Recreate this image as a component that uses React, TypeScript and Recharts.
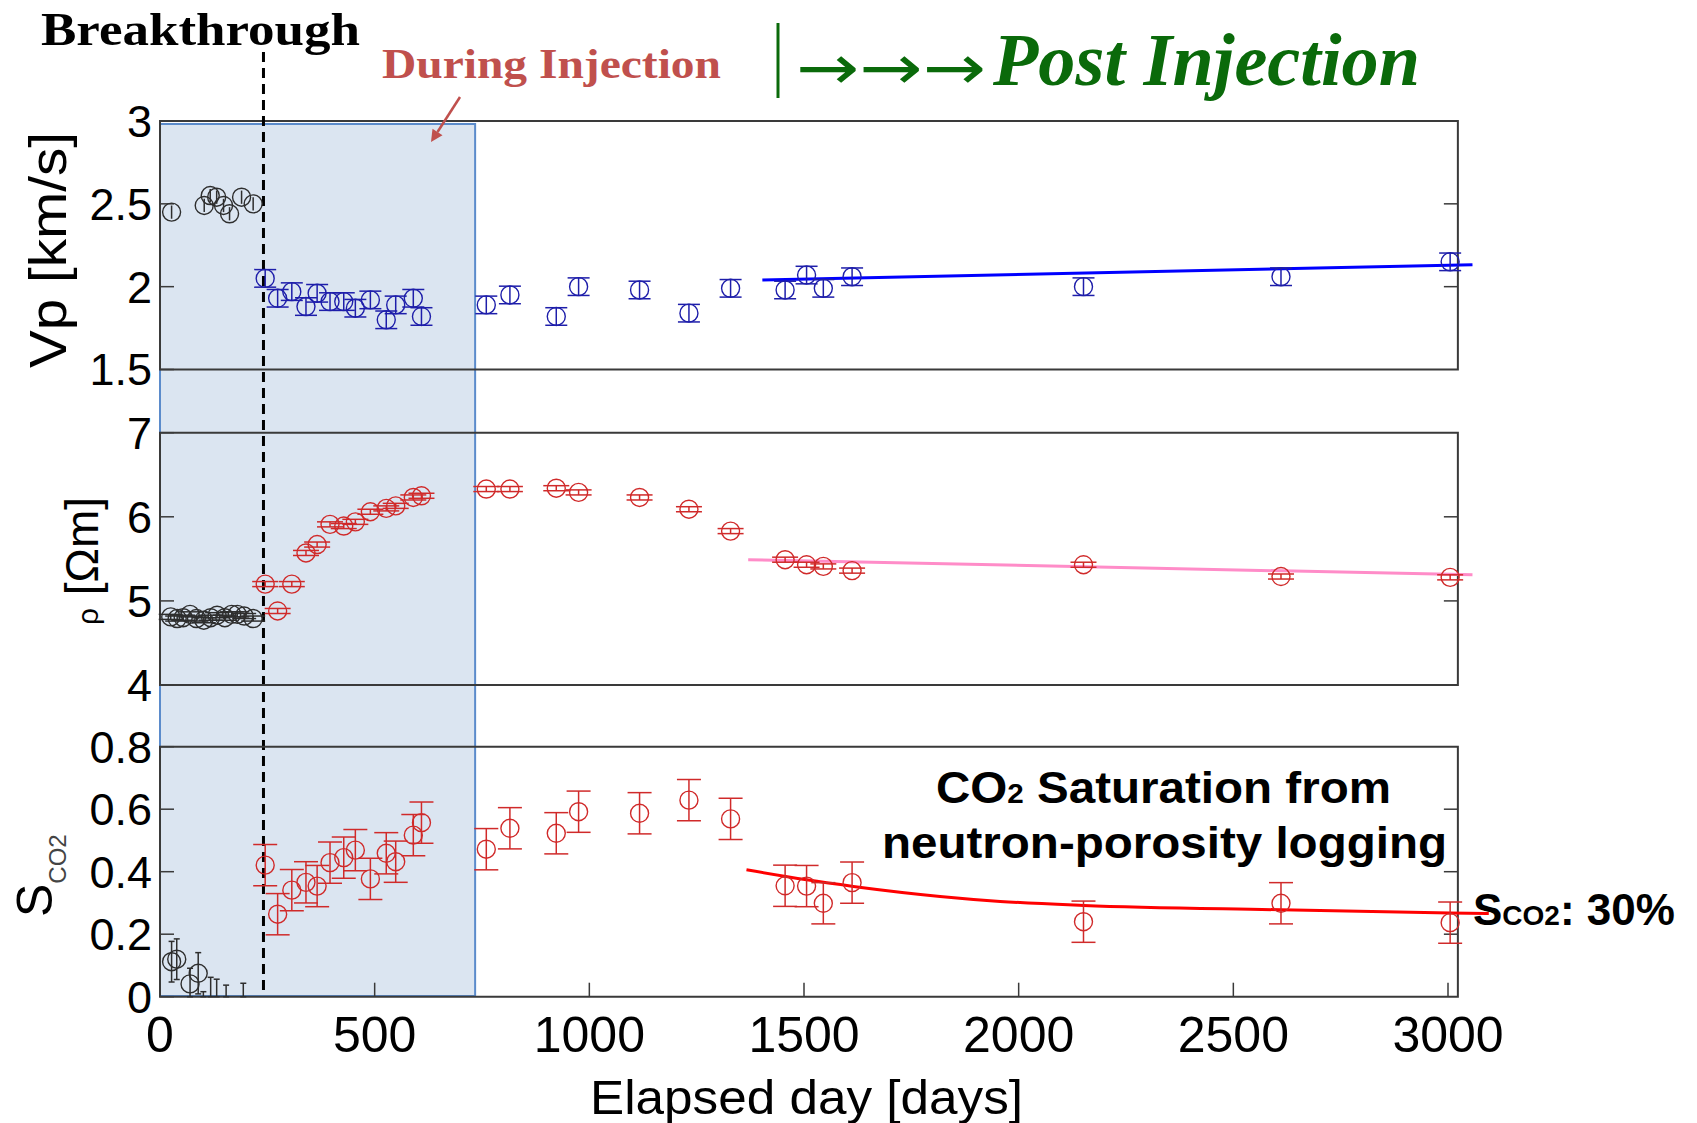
import React from 'react';
import { ComposedChart, Scatter, Line, XAxis, YAxis, ErrorBar, ReferenceArea, ReferenceLine } from 'recharts';

// ---------------- data ----------------
const loggingDays = [245, 274, 307, 340, 366, 396, 428, 455, 490, 527, 549, 590, 609, 760, 815, 923, 975, 1117, 1232, 1329, 1456, 1506, 1545, 1612, 2151, 2611, 3005];
const vpValues = [2.05, 1.93, 1.97, 1.88, 1.96, 1.91, 1.91, 1.87, 1.92, 1.80, 1.89, 1.93, 1.82, 1.89, 1.95, 1.82, 2.00, 1.98, 1.84, 1.99, 1.98, 2.07, 1.99, 2.06, 2.00, 2.06, 2.15];
const rhoValues = [5.20, 4.88, 5.20, 5.57, 5.67, 5.91, 5.89, 5.94, 6.06, 6.10, 6.13, 6.23, 6.25, 6.33, 6.33, 6.34, 6.29, 6.23, 6.09, 5.83, 5.49, 5.43, 5.41, 5.36, 5.43, 5.29, 5.28];
const sco2Values = [0.421, 0.264, 0.341, 0.366, 0.354, 0.429, 0.445, 0.469, 0.377, 0.459, 0.432, 0.517, 0.557, 0.472, 0.539, 0.523, 0.592, 0.587, 0.629, 0.569, 0.355, 0.354, 0.299, 0.365, 0.240, 0.299, 0.237];
const vpError = 0.053;
const rhoError = 0.03;
const sco2Error = 0.066;

const preVpDays = [27, 103, 117, 132, 148, 162, 190, 217];
const preVpValues = [2.45, 2.49, 2.55, 2.54, 2.49, 2.44, 2.54, 2.50];
const preVpError = 0.04;

const preRhoDays = [25, 40, 54, 70, 85, 102, 118, 133, 151, 167, 180, 196, 217];
const preRhoValues = [4.81, 4.79, 4.80, 4.84, 4.79, 4.77, 4.80, 4.83, 4.80, 4.84, 4.84, 4.82, 4.79];
const preRhoError = 0.03;

const preSDays = [27, 39, 70, 89, 101, 118, 132, 154, 194];
const preSValues = [0.112, 0.12, 0.041, 0.075, -0.03, -0.03, -0.03, -0.03, -0.03];
const preSErrorsLow = [0.065, 0.065, 0.041, 0.066, -0.03, -0.03, -0.03, -0.03, -0.03];
const preSErrorsHigh = [0.065, 0.065, 0.05, 0.066, 0.046, 0.092, 0.086, 0.067, 0.073];

const vpFitDays = [1403, 3057];
const vpFitValues = [2.04, 2.133];
const rhoFitDays = [1370, 3057];
const rhoFitValues = [5.49, 5.31];
const sFitDays = [1366, 1506, 1615, 1817, 1957, 2151, 2611, 3005, 3095];
const sFitValues = [0.406, 0.374, 0.353, 0.321, 0.305, 0.292, 0.278, 0.268, 0.266];

const dayTicks = [0, 500, 1000, 1500, 2000, 2500, 3000];
const vpTicks = [1.5, 2, 2.5, 3];
const rhoTicks = [4, 5, 6, 7];
const sTicks = [0, 0.2, 0.4, 0.6, 0.8];

const BREAKTHROUGH_DAY = 241;
const INJECTION_END_DAY = 734;
const FRAME_END_DAY = 3023;

// ---------------- layout / style ----------------
const W = 1697;
const H = 1123;
const PLOT_LEFT = 160;
const PX_PER_DAY = 1288 / 3000;
const X_MAX = 3100;
const PLOT_W = X_MAX * PX_PER_DAY;
const MARGIN_RIGHT = W - PLOT_LEFT - PLOT_W;
const TICK_LEN = 14;
const SANS = "'Liberation Sans', Arial, Helvetica, sans-serif";
const SERIF = "'Liberation Serif', 'Times New Roman', serif";
const AXIS_COLOR = '#3a3a3a';
const BLUE = '#1e1eaa';
const RED = '#d02a2a';
const BLACK = '#2e2e2e';
const GREEN = '#0a6a0a';
const INJ_RED = '#c0504d';

const PANELS = {
  vp: { top: 121, bottom: 369.5, domain: [1.5, 3] },
  rho: { top: 432.7, bottom: 685, domain: [4, 7] },
  s: { top: 746.7, bottom: 996.7, domain: [0, 0.8] },
};

type Pt = { day: number; v: number; err?: number | number[] };
const toPoints = (days: number[], values: number[], errs?: number | number[] | number[][]): Pt[] =>
  days.map((d, i) => ({ day: d, v: values[i], err: Array.isArray(errs) ? (errs as any)[i] : errs }));

const vpAtPx = (px: number) => {
  const p = PANELS.vp;
  return p.domain[1] - ((px - p.top) * (p.domain[1] - p.domain[0])) / (p.bottom - p.top);
};

type ScatterSet = { data: Pt[]; color: string; cap: number };

function Panel(props: {
  cfg: { top: number; bottom: number; domain: number[] };
  ticks: number[];
  scatters: ScatterSet[];
  fit: Pt[];
  fitColor: string;
  fitType: 'linear' | 'monotone';
  showXLabels: boolean;
  children?: React.ReactNode;
}) {
  const { cfg, ticks, scatters, fit, fitColor, fitType, showXLabels, children } = props;
  const tickDays = TICK_LEN / PX_PER_DAY;
  return (
    <div style={{ position: 'absolute', left: 0, top: 0 }}>
      <ComposedChart
        width={W}
        height={H}
        margin={{ top: cfg.top - 1, bottom: H - cfg.bottom - 1, left: PLOT_LEFT - 1, right: MARGIN_RIGHT }}
      >
        <XAxis
          xAxisId="b"
          dataKey="day"
          type="number"
          domain={[0, X_MAX]}
          allowDataOverflow
          ticks={dayTicks}
          interval={0}
          orientation="bottom"
          height={1}
          axisLine={false}
          tickSize={-TICK_LEN}
          tickMargin={TICK_LEN + 20}
          tickLine={{ stroke: AXIS_COLOR, strokeWidth: 1.5 }}
          tick={showXLabels ? { fontSize: 50, fill: '#000', fontFamily: SANS } : false}
        />
        <XAxis
          xAxisId="t"
          dataKey="day"
          type="number"
          domain={[0, X_MAX]}
          allowDataOverflow
          ticks={dayTicks}
          interval={0}
          orientation="top"
          height={1}
          axisLine={false}
          tickSize={-TICK_LEN}
          tickLine={{ stroke: AXIS_COLOR, strokeWidth: 1.5 }}
          tick={false}
        />
        <YAxis
          yAxisId="l"
          type="number"
          domain={cfg.domain}
          allowDataOverflow
          ticks={ticks}
          interval={0}
          width={1}
          axisLine={false}
          tickSize={-TICK_LEN}
          tickMargin={TICK_LEN + 8}
          tickLine={{ stroke: AXIS_COLOR, strokeWidth: 1.5 }}
          tick={{ fontSize: 45, fill: '#000', fontFamily: SANS }}
        />
        {children}
        <ReferenceArea
          xAxisId="b"
          yAxisId="l"
          x1={0}
          x2={FRAME_END_DAY}
          y1={cfg.domain[0]}
          y2={cfg.domain[1]}
          fill="none"
          fillOpacity={0}
          stroke={AXIS_COLOR}
          strokeWidth={2}
          ifOverflow="visible"
        />
        {ticks.slice(1, -1).map((t) => (
          <ReferenceLine
            key={'rt' + t}
            xAxisId="b"
            yAxisId="l"
            segment={[
              { x: FRAME_END_DAY - tickDays, y: t },
              { x: FRAME_END_DAY, y: t },
            ]}
            stroke={AXIS_COLOR}
            strokeWidth={1.5}
            ifOverflow="visible"
          />
        ))}
        <Line
          xAxisId="b"
          yAxisId="l"
          data={fit}
          dataKey="v"
          type={fitType}
          stroke={fitColor}
          strokeWidth={3}
          dot={false}
          activeDot={false}
          isAnimationActive={false}
        />
        {scatters.map((s, i) => (
          <Scatter
            key={'sc' + i}
            xAxisId="b"
            yAxisId="l"
            data={s.data}
            dataKey="v"
            isAnimationActive={false}
            shape={(p: any) => (
              <circle cx={p.cx} cy={p.cy} r={9} fill="none" stroke={s.color} strokeWidth={1.4} />
            )}
          >
            <ErrorBar dataKey="err" direction="y" width={s.cap} stroke={s.color} strokeWidth={1.5} isAnimationActive={false} />
          </Scatter>
        ))}
      </ComposedChart>
    </div>
  );
}

export default function App() {
  const vpBlack = toPoints(preVpDays, preVpValues, preVpError);
  const vpBlue = toPoints(loggingDays, vpValues, vpError);
  const rhoBlack = toPoints(preRhoDays, preRhoValues, preRhoError);
  const rhoRed = toPoints(loggingDays, rhoValues, rhoError);
  const sBlack = toPoints(
    preSDays,
    preSValues,
    preSDays.map((_, i) => [preSErrorsLow[i], preSErrorsHigh[i]])
  );
  const sRed = toPoints(loggingDays, sco2Values, sco2Error);
  const vpFit = toPoints(vpFitDays, vpFitValues);
  const rhoFit = toPoints(rhoFitDays, rhoFitValues);
  const sFit = toPoints(sFitDays, sFitValues);

  return (
    <div style={{ position: 'relative', width: W, height: H, background: '#fff', overflow: 'hidden' }}>
      <style>{'html,body{margin:0;padding:0;background:#fff;}'}</style>
      <Panel
        cfg={PANELS.vp}
        ticks={vpTicks}
        scatters={[
          { data: vpBlack, color: BLACK, cap: 0 },
          { data: vpBlue, color: BLUE, cap: 11 },
        ]}
        fit={vpFit}
        fitColor="#0000ff"
        fitType="linear"
        showXLabels={false}
      >
        <ReferenceArea
          xAxisId="b"
          yAxisId="l"
          x1={0}
          x2={INJECTION_END_DAY}
          y1={vpAtPx(124)}
          y2={vpAtPx(996)}
          fill="#dbe5f1"
          fillOpacity={1}
          stroke="#5b8bcb"
          strokeWidth={2}
          ifOverflow="visible"
        />
        <ReferenceLine
          xAxisId="b"
          yAxisId="l"
          segment={[
            { x: BREAKTHROUGH_DAY, y: vpAtPx(52) },
            { x: BREAKTHROUGH_DAY, y: vpAtPx(997) },
          ]}
          stroke="#000"
          strokeWidth={3}
          strokeDasharray="10 6"
          ifOverflow="visible"
        />
      </Panel>
      <Panel
        cfg={PANELS.rho}
        ticks={rhoTicks}
        scatters={[
          { data: rhoBlack, color: BLACK, cap: 12 },
          { data: rhoRed, color: RED, cap: 13 },
        ]}
        fit={rhoFit}
        fitColor="#ff8cc8"
        fitType="linear"
        showXLabels={false}
      />
      <Panel
        cfg={PANELS.s}
        ticks={sTicks}
        scatters={[
          { data: sBlack, color: BLACK, cap: 3 },
          { data: sRed, color: RED, cap: 12 },
        ]}
        fit={sFit}
        fitColor="#ff0000"
        fitType="monotone"
        showXLabels={true}
      />
      <svg
        width={W}
        height={H}
        style={{ position: 'absolute', left: 0, top: 0, pointerEvents: 'none' }}
      >
        <text x={41} y={45} fontFamily={SERIF} fontWeight="bold" fontSize={46} textLength={319} lengthAdjust="spacingAndGlyphs" fill="#000">
          Breakthrough
        </text>
        <text x={382} y={78} fontFamily={SERIF} fontWeight="bold" fontSize={42} textLength={339} lengthAdjust="spacingAndGlyphs" fill={INJ_RED}>
          During Injection
        </text>
        <line x1={460} y1={97} x2={437.5} y2={132} stroke={INJ_RED} strokeWidth={2.5} />
        <polygon points="431,142 442.5,135.2 432.5,128.7" fill={INJ_RED} />
        <line x1={778} y1={23} x2={778} y2={98} stroke={GREEN} strokeWidth={3} />
        <text x={796} y={89} fontFamily="'DejaVu Sans', sans-serif" fontSize={62} textLength={190} lengthAdjust="spacingAndGlyphs" fill={GREEN}>
          →→→
        </text>
        <text x={993} y={85} fontFamily={SERIF} fontWeight="bold" fontStyle="italic" fontSize={74} textLength={427} lengthAdjust="spacingAndGlyphs" fill={GREEN}>
          Post Injection
        </text>

        <text transform="translate(66,250) rotate(-90)" textAnchor="middle" fontFamily={SANS} fontSize={52} textLength={236} lengthAdjust="spacingAndGlyphs" fill="#000">
          Vp [km/s]
        </text>
        <text transform="translate(98,561) rotate(-90)" textAnchor="middle" fontFamily={SANS} fontSize={46} fill="#000">
          <tspan fontSize={30}>ρ</tspan> [Ωm]
        </text>
        <text transform="translate(52,917) rotate(-90)" fontFamily={SANS} fontSize={50} fill="#000">
          S<tspan fontSize={24} dy={14} fill="#444">CO2</tspan>
        </text>
        <text x={590} y={1114} fontFamily={SANS} fontSize={48} textLength={433} lengthAdjust="spacingAndGlyphs" fill="#000">
          Elapsed day [days]
        </text>

        <text x={936} y={803} fontFamily={SANS} fontWeight="bold" fontSize={45} textLength={455} lengthAdjust="spacingAndGlyphs" fill="#000">
          CO<tspan fontSize={28}>2</tspan> Saturation from
        </text>
        <text x={882} y={858} fontFamily={SANS} fontWeight="bold" fontSize={45} textLength={565} lengthAdjust="spacingAndGlyphs" fill="#000">
          neutron-porosity logging
        </text>
        <text x={1473} y={925} fontFamily={SANS} fontWeight="bold" fontSize={44} fill="#000">
          S<tspan fontSize={28}>CO2</tspan>: 30%
        </text>
      </svg>
    </div>
  );
}
